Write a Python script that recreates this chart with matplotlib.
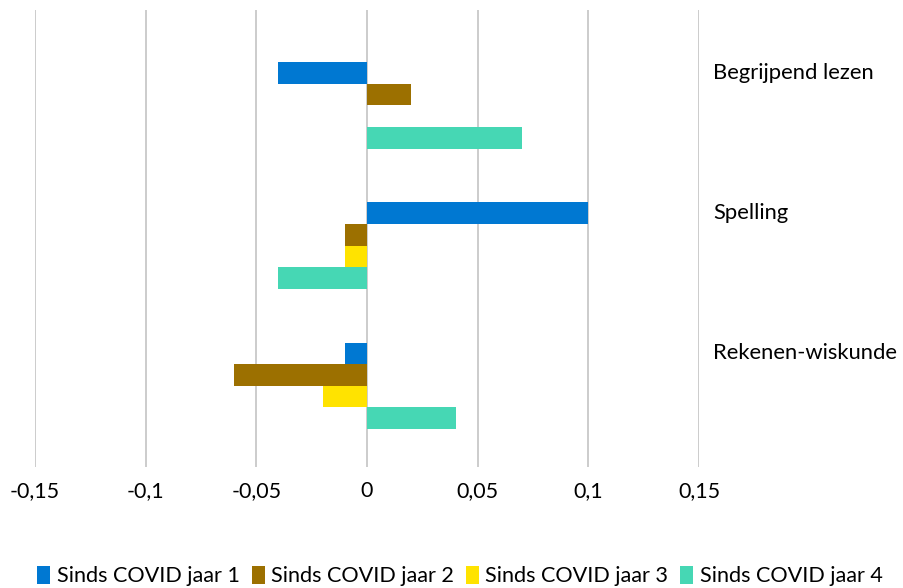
import matplotlib
matplotlib.use("Agg")
import matplotlib.pyplot as plt
import numpy as np

categories = ["Begrijpend lezen", "Spelling", "Rekenen-wiskunde"]
series_names = ["Sinds COVID jaar 1", "Sinds COVID jaar 2", "Sinds COVID jaar 3", "Sinds COVID jaar 4"]
jaar1 = [-0.04, 0.10, -0.01]
jaar2 = [0.02, -0.01, -0.06]
jaar3 = [0.0, -0.01, -0.02]
jaar4 = [0.07, -0.04, 0.04]
tick_values = [-0.15, -0.1, -0.05, 0, 0.05, 0.1, 0.15]
tick_labels = ["-0,15", "-0,1", "-0,05", "0", "0,05", "0,1", "0,15"]
colors = ["#0078D2", "#9C7000", "#FFE300", "#46D7B4"]

plt.rcParams['font.family'] = ['Lato', 'DejaVu Sans']

W, H = 904, 588
fig = plt.figure(figsize=(W/100, H/100), dpi=100)
ax = fig.add_axes([35/W, 1-467/H, (699-35)/W, (467-10)/H])

series = [jaar1, jaar2, jaar3, jaar4]
y = np.arange(len(categories))
h = 0.154
for i, (vals, name, c) in enumerate(zip(series, series_names, colors)):
    ax.barh(y + (i - 1.5)*h, vals, height=h, color=c, label=name, zorder=3)

ax.set_xlim(-0.15, 0.15)
ax.set_ylim(2.58, -0.68)
ax.set_xticks(tick_values)
ax.set_xticklabels(tick_labels, fontsize=15.5)
ax.set_yticks([])
ax.grid(axis='x', color='#C8C8C8', linewidth=1.3, zorder=0)
for s in ax.spines.values():
    s.set_visible(False)
ax.tick_params(axis='x', length=0, pad=10, colors='black')

for yi, cat in zip(y, categories):
    ax.annotate(cat, xy=(1, yi - 1.5*h), xycoords=('axes fraction', 'data'),
                xytext=(14, 0), textcoords='offset pixels', va='center', ha='left', fontsize=15.8)

handles, labels = ax.get_legend_handles_labels()
leg = fig.legend(handles, labels, loc='center', bbox_to_anchor=(460/W, 1-576/H), ncol=4,
                 frameon=False, fontsize=15.6, handlelength=0.6, handleheight=0.9,
                 handletextpad=0.3, columnspacing=0.55)

fig.savefig("out.png", dpi=100)
